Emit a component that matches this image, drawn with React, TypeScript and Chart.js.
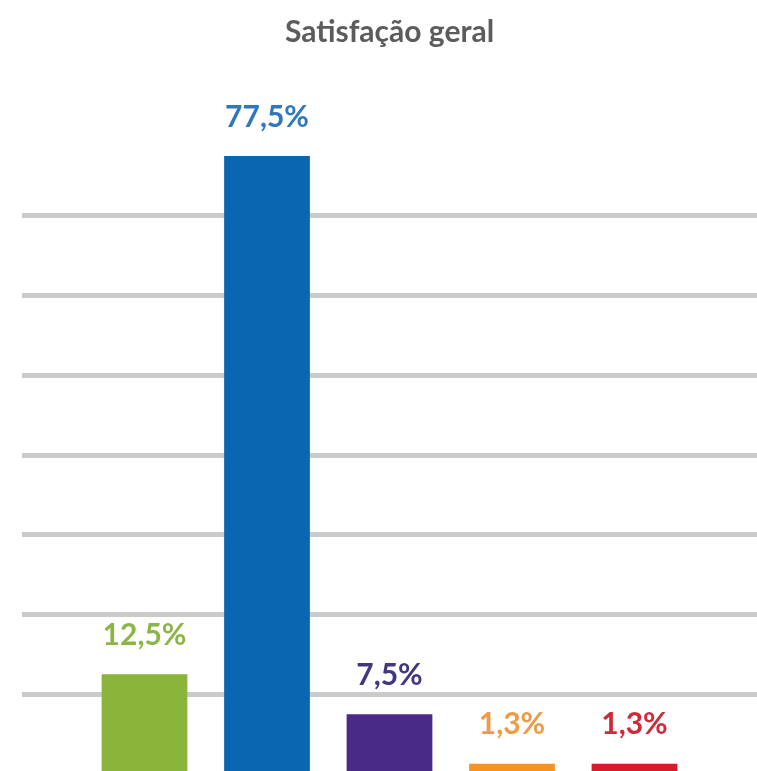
import React, { useEffect, useRef } from "react";
import { Chart, registerables } from "chart.js";

Chart.register(...registerables);

const chartTitle = "Satisfação geral";
const categories = ["Categoria 1", "Categoria 2", "Categoria 3", "Categoria 4", "Categoria 5"];
const values = [12.5, 77.5, 7.5, 1.3, 1.3];
const valueLabels = ["12,5%", "77,5%", "7,5%", "1,3%", "1,3%"];
const barColors = ["#8bb43b", "#0a66b1", "#4a2a87", "#f7921e", "#d61b2b"];
const labelColors = ["#8db546", "#2f78bd", "#43357e", "#f09a45", "#cf2a3a"];
const yMin = 0;
const yMax = 78;
const yStep = 10;

const valueLabelPlugin = {
  id: "valueLabels",
  afterDatasetsDraw(chart: any) {
    const ctx = chart.ctx;
    const meta = chart.getDatasetMeta(0);
    ctx.save();
    ctx.font = "bold 30px Lato";
    ctx.textAlign = "center";
    ctx.textBaseline = "bottom";
    meta.data.forEach((bar: any, i: number) => {
      ctx.fillStyle = labelColors[i];
      ctx.fillText(valueLabels[i], bar.x, bar.y - 24);
    });
    ctx.restore();
  },
};

export default function App() {
  const canvasRef = useRef<HTMLCanvasElement | null>(null);

  useEffect(() => {
    if (!canvasRef.current) return;
    const chart = new Chart(canvasRef.current, {
      type: "bar",
      data: {
        labels: categories,
        datasets: [
          {
            label: chartTitle,
            data: values.map((v, i) => ({ x: i + 1, y: v })),
            backgroundColor: barColors,
            borderWidth: 0,
            barPercentage: 0.7,
            categoryPercentage: 1,
          },
        ],
      },
      options: {
        animation: false,
        responsive: true,
        maintainAspectRatio: false,
        layout: { padding: { left: 22, right: 0, top: 0, bottom: 2 } },
        plugins: {
          legend: { display: false },
          tooltip: { enabled: false },
          title: {
            display: true,
            text: chartTitle,
            color: "#5c5c5e",
            font: { family: "Lato", size: 30, weight: "bold" },
            padding: { top: 14, bottom: 102 },
          },
        },
        scales: {
          x: {
            type: "linear",
            min: 0,
            max: categories.length + 1,
            offset: false,
            display: false,
            grid: { display: false },
          },
          y: {
            min: yMin,
            max: yMax,
            display: true,
            border: { display: false },
            ticks: { display: false, stepSize: yStep, includeBounds: false },
            grid: {
              drawTicks: false,
              lineWidth: 5,
              color: (c: any) => (c.tick && c.tick.value === 0 ? "rgba(0,0,0,0)" : "#cbcbcb"),
            },
          },
        },
      },
      plugins: [valueLabelPlugin],
    });
    return () => chart.destroy();
  }, []);

  return (
    <div style={{ position: "absolute", left: 0, top: 0, width: 757, height: 771, overflow: "hidden", background: "#ffffff" }}>
      <div style={{ position: "relative", width: 757, height: 776 }}>
        <canvas ref={canvasRef} />
      </div>
    </div>
  );
}
